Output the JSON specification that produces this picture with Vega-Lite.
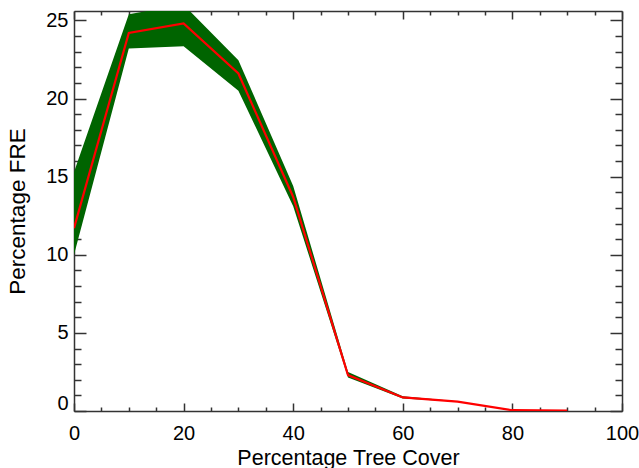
{
  "$schema": "https://vega.github.io/schema/vega-lite/v6.json",
  "width": 548,
  "height": 400,
  "autosize": {"type": "none"},
  "padding": {"left": 74, "top": 11, "right": 17, "bottom": 57},
  "background": "white",
  "config": {
    "view": {"stroke": null},
    "axis": {
      "grid": false,
      "domainColor": "#333333",
      "domainWidth": 1.5,
      "tickColor": "#333333",
      "tickWidth": 1.5,
      "labelFont": "Liberation Sans",
      "labelFontSize": 20,
      "labelColor": "black",
      "titleFont": "Liberation Sans",
      "titleFontSize": 21.5,
      "titleFontWeight": "normal",
      "titleColor": "black"
    }
  },
  "data": {
    "values": [
      {"cover": 0, "lo": 10.0, "hi": 15.3, "fre": 11.7},
      {"cover": 10, "lo": 23.2, "hi": 25.4, "fre": 24.2},
      {"cover": 20, "lo": 23.35, "hi": 26.0, "fre": 24.8},
      {"cover": 30, "lo": 20.5, "hi": 22.45, "fre": 21.6},
      {"cover": 40, "lo": 13.1, "hi": 14.4, "fre": 13.7},
      {"cover": 50, "lo": 2.15, "hi": 2.5, "fre": 2.3},
      {"cover": 60, "lo": 0.8, "hi": 0.95, "fre": 0.87},
      {"cover": 70, "lo": 0.6, "hi": 0.62, "fre": 0.6},
      {"cover": 80, "lo": 0.05, "hi": 0.06, "fre": 0.05},
      {"cover": 90, "lo": 0.02, "hi": 0.03, "fre": 0.02}
    ]
  },
  "resolve": {"axis": {"x": "independent", "y": "independent"}},
  "layer": [
    {
      "mark": {"type": "area", "color": "#006400", "clip": true},
      "encoding": {
        "x": {
          "field": "cover", "type": "quantitative",
          "scale": {"domain": [0, 100], "nice": false, "zero": false},
          "axis": {
            "orient": "bottom",
            "title": "Percentage Tree Cover",
            "values": [0,5,10,15,20,25,30,35,40,45,50,55,60,65,70,75,80,85,90,95,100],
            "labelExpr": "datum.value % 20 === 0 ? datum.label : ''",
            "tickSize": {"condition": {"test": "datum.value % 20 === 0", "value": -8}, "value": -4},
            "labelPadding": 20,
            "titlePadding": 0,
            "labelFlush": false,
            "labelOverlap": false
          }
        },
        "y": {
          "field": "lo", "type": "quantitative",
          "scale": {"domain": [0, 25.6], "nice": false, "zero": false},
          "axis": {
            "orient": "left",
            "title": "Percentage  FRE",
            "titleFontSize": 22.5,
            "values": [0,1,2,3,4,5,6,7,8,9,10,11,12,13,14,15,16,17,18,19,20,21,22,23,24,25],
            "labelExpr": "datum.value % 5 === 0 ? datum.label : ''",
            "tickSize": {"condition": {"test": "datum.value % 5 === 0", "value": -12}, "value": -7},
            "labelOffset": {"condition": {"test": "datum.value === 0", "value": -8}, "value": 0},
            "labelPadding": 18,
            "titlePadding": 16,
            "labelFlush": false,
            "labelOverlap": false
          }
        },
        "y2": {"field": "hi"}
      }
    },
    {
      "mark": {"type": "line", "color": "#ff0000", "strokeWidth": 2.2, "clip": true},
      "encoding": {
        "x": {
          "field": "cover", "type": "quantitative",
          "scale": {"domain": [0, 100], "nice": false, "zero": false},
          "axis": {
            "orient": "top",
            "title": null,
            "labels": false,
            "values": [0,5,10,15,20,25,30,35,40,45,50,55,60,65,70,75,80,85,90,95,100],
            "tickSize": {"condition": {"test": "datum.value % 20 === 0", "value": -8}, "value": -4}
          }
        },
        "y": {
          "field": "fre", "type": "quantitative",
          "scale": {"domain": [0, 25.6], "nice": false, "zero": false},
          "axis": {
            "orient": "right",
            "title": null,
            "labels": false,
            "values": [0,1,2,3,4,5,6,7,8,9,10,11,12,13,14,15,16,17,18,19,20,21,22,23,24,25],
            "tickSize": {"condition": {"test": "datum.value % 5 === 0", "value": -12}, "value": -7}
          }
        }
      }
    }
  ]
}
